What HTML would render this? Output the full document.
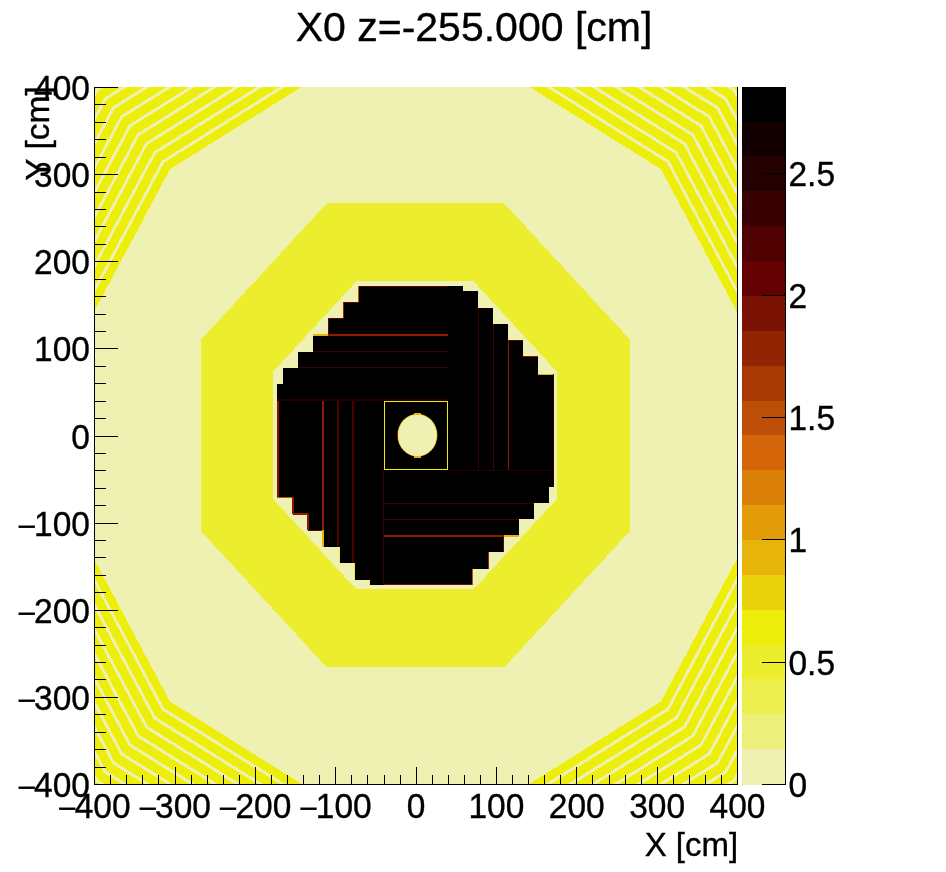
<!DOCTYPE html>
<html><head><meta charset="utf-8"><title>X0</title>
<style>html,body{margin:0;padding:0;background:#fff;width:946px;height:872px;overflow:hidden}</style></head>
<body>
<svg width="946" height="872" viewBox="0 0 946 872" style="position:absolute;left:0;top:0;will-change:transform">
<defs><clipPath id="fr"><rect x="94" y="87" width="643" height="697"/></clipPath></defs>
<g clip-path="url(#fr)" shape-rendering="crispEdges">
<rect x="94" y="87" width="644" height="698" fill="#edee0b"/>
<polygon points="863.43,305.25 743.41,79.90 535.52,-50.20 295.48,-50.20 87.59,79.90 -32.43,305.25 -32.43,565.45 87.59,790.80 295.48,920.90 535.52,920.90 743.41,790.80 863.43,565.45" fill="#eff1b2"/>
<polygon points="860.64,306.06 741.36,82.12 534.77,-47.17 296.23,-47.17 89.64,82.12 -29.64,306.06 -29.64,564.64 89.64,788.58 296.23,917.87 534.77,917.87 741.36,788.58 860.64,564.64" fill="#edee0b"/>
<polygon points="852.14,308.53 735.14,88.86 532.50,-37.96 298.50,-37.96 95.86,88.86 -21.14,308.53 -21.14,562.17 95.86,781.84 298.50,908.66 532.50,908.66 735.14,781.84 852.14,562.17" fill="#eff1b2"/>
<polygon points="849.35,309.34 733.10,91.08 531.75,-34.93 299.25,-34.93 97.90,91.08 -18.35,309.34 -18.35,561.36 97.90,779.62 299.25,905.63 531.75,905.63 733.10,779.62 849.35,561.36" fill="#edee0b"/>
<polygon points="840.85,311.81 726.88,97.82 529.47,-25.73 301.53,-25.73 104.12,97.82 -9.85,311.81 -9.85,558.89 104.12,772.88 301.53,896.43 529.47,896.43 726.88,772.88 840.85,558.89" fill="#eff1b2"/>
<polygon points="838.06,312.62 724.83,100.04 528.72,-22.70 302.28,-22.70 106.17,100.04 -7.06,312.62 -7.06,558.08 106.17,770.66 302.28,893.40 528.72,893.40 724.83,770.66 838.06,558.08" fill="#edee0b"/>
<polygon points="829.57,315.08 718.62,106.78 526.45,-13.49 304.55,-13.49 112.38,106.78 1.43,315.08 1.43,555.62 112.38,763.92 304.55,884.19 526.45,884.19 718.62,763.92 829.57,555.62" fill="#eff1b2"/>
<polygon points="826.77,315.90 716.57,108.99 525.70,-10.46 305.30,-10.46 114.43,108.99 4.23,315.90 4.23,554.80 114.43,761.71 305.30,881.16 525.70,881.16 716.57,761.71 826.77,554.80" fill="#edee0b"/>
<polygon points="818.28,318.36 710.35,115.73 523.42,-1.25 307.58,-1.25 120.65,115.73 12.72,318.36 12.72,552.34 120.65,754.97 307.58,871.95 523.42,871.95 710.35,754.97 818.28,552.34" fill="#eff1b2"/>
<polygon points="815.48,319.17 708.31,117.95 522.67,1.78 308.33,1.78 122.69,117.95 15.52,319.17 15.52,551.53 122.69,752.75 308.33,868.92 522.67,868.92 708.31,752.75 815.48,551.53" fill="#edee0b"/>
<polygon points="806.99,321.64 702.09,124.69 520.40,10.98 310.60,10.98 128.91,124.69 24.01,321.64 24.01,549.06 128.91,746.01 310.60,859.72 520.40,859.72 702.09,746.01 806.99,549.06" fill="#eff1b2"/>
<polygon points="804.19,322.45 700.04,126.91 519.65,14.01 311.35,14.01 130.96,126.91 26.81,322.45 26.81,548.25 130.96,743.79 311.35,856.69 519.65,856.69 700.04,743.79 804.19,548.25" fill="#edee0b"/>
<polygon points="795.70,324.92 693.83,133.65 517.37,23.22 313.63,23.22 137.17,133.65 35.30,324.92 35.30,545.78 137.17,737.05 313.63,847.48 517.37,847.48 693.83,737.05 795.70,545.78" fill="#eff1b2"/>
<polygon points="792.91,325.73 691.78,135.87 516.63,26.25 314.37,26.25 139.22,135.87 38.09,325.73 38.09,544.97 139.22,734.83 314.37,844.45 516.63,844.45 691.78,734.83 792.91,544.97" fill="#edee0b"/>
<polygon points="784.41,328.20 685.56,142.61 514.35,35.46 316.65,35.46 145.44,142.61 46.59,328.20 46.59,542.50 145.44,728.09 316.65,835.24 514.35,835.24 685.56,728.09 784.41,542.50" fill="#eff1b2"/>
<polygon points="781.62,329.01 683.52,144.83 513.60,38.49 317.40,38.49 147.48,144.83 49.38,329.01 49.38,541.69 147.48,725.87 317.40,832.21 513.60,832.21 683.52,725.87 781.62,541.69" fill="#edee0b"/>
<polygon points="773.12,331.48 677.30,151.56 511.33,47.69 319.67,47.69 153.70,151.56 57.88,331.48 57.88,539.22 153.70,719.14 319.67,823.01 511.33,823.01 677.30,719.14 773.12,539.22" fill="#eff1b2"/>
<polygon points="770.33,332.29 675.25,153.78 510.58,50.72 320.42,50.72 155.75,153.78 60.67,332.29 60.67,538.41 155.75,716.92 320.42,819.98 510.58,819.98 675.25,716.92 770.33,538.41" fill="#edee0b"/>
<polygon points="761.84,334.76 669.04,160.52 508.30,59.93 322.70,59.93 161.96,160.52 69.16,334.76 69.16,535.94 161.96,710.18 322.70,810.77 508.30,810.77 669.04,710.18 761.84,535.94" fill="#eff1b2"/>
<polygon points="759.04,335.57 666.99,162.74 507.55,62.96 323.45,62.96 164.01,162.74 71.96,335.57 71.96,535.13 164.01,707.96 323.45,807.74 507.55,807.74 666.99,707.96 759.04,535.13" fill="#edee0b"/>
<polygon points="750.89,337.94 661.02,169.21 505.37,71.79 325.63,71.79 169.98,169.21 80.11,337.94 80.11,532.76 169.98,701.49 325.63,798.91 505.37,798.91 661.02,701.49 750.89,532.76" fill="#eff1b2"/>
<polygon points="629.60,339.23 504.18,203.30 326.82,203.30 201.40,339.23 201.40,531.47 326.82,667.40 504.18,667.40 629.60,531.47" fill="#ecee2d"/>
<polygon points="556.80,371.58 473.74,281.40 356.26,281.40 273.20,371.58 273.20,499.12 356.26,589.30 473.74,589.30 556.80,499.12" fill="#eff1b2"/>
<polygon points="277.0,497.0 277.0,383.8 283.0,383.8 283.0,367.7 298.1,367.7 298.1,351.7 313.2,351.7 313.2,334.8 328.3,334.8 328.3,318.4 343.5,318.4 343.5,302.3 358.8,302.3 358.8,286.3 463.2,286.3 463.2,290.7 478.3,290.7 478.3,308.0 493.1,308.0 493.1,323.8 508.3,323.8 508.3,340.1 523.4,340.1 523.4,356.2 538.4,356.2 538.4,373.7 554.0,373.7 554.0,486.9 548.9,486.9 548.9,503.0 534.2,503.0 534.2,519.4 519.2,519.4 519.2,536.0 503.9,536.0 503.9,552.4 488.9,552.4 488.9,568.5 473.3,568.5 473.3,584.8 369.0,584.8 369.0,580.2 353.9,580.2 353.9,563.0 338.9,563.0 338.9,546.7 323.3,546.7 323.3,530.4 308.0,530.4 308.0,514.0 293.0,514.0 293.0,497.0" fill="#010000"/>
<rect x="358.8" y="286.3" width="89.2" height="1.0" fill="#5c0a00"/>
<rect x="343.5" y="302.3" width="15.3" height="1.0" fill="#5c0a00"/>
<rect x="328.3" y="318.4" width="15.2" height="1.0" fill="#5c0a00"/>
<rect x="358.0" y="286.3" width="1.0" height="16.0" fill="#b05a04"/>
<rect x="342.9" y="302.3" width="1.0" height="16.1" fill="#8a2a02"/>
<rect x="328.0" y="318.4" width="1.0" height="15.6" fill="#5c0a00"/>
<rect x="313.2" y="333.9" width="15.1" height="2.0" fill="#e7b509"/>
<rect x="328.3" y="333.9" width="119.7" height="2.0" fill="#8c1c02"/>
<rect x="313.2" y="351.4" width="134.8" height="1.0" fill="#3c0000"/>
<rect x="298.1" y="367.4" width="149.9" height="1.0" fill="#3c0000"/>
<rect x="277.0" y="399.0" width="171.0" height="2.0" fill="#240000"/>
<rect x="477.8" y="308.0" width="1.0" height="162.0" fill="#3c0000"/>
<rect x="492.9" y="323.8" width="1.0" height="146.2" fill="#4c0000"/>
<rect x="507.8" y="340.1" width="1.5" height="129.9" fill="#8c1c02"/>
<rect x="538.4" y="373.7" width="15.6" height="1.0" fill="#e7b509"/>
<rect x="523.4" y="356.1" width="15.0" height="1.2" fill="#8c1c02"/>
<rect x="508.3" y="340.0" width="15.1" height="1.0" fill="#5c0a00"/>
<rect x="553.0" y="373.7" width="1.0" height="113.2" fill="#240000"/>
<rect x="448.0" y="470.1" width="106.0" height="1.0" fill="#240000"/>
<rect x="384.4" y="502.9" width="149.8" height="1.0" fill="#3c0000"/>
<rect x="384.4" y="518.9" width="134.8" height="1.0" fill="#4c0000"/>
<rect x="384.4" y="535.0" width="119.5" height="2.0" fill="#8c1c02"/>
<rect x="503.9" y="535.0" width="15.3" height="2.0" fill="#e7b509"/>
<rect x="384.4" y="583.8" width="88.9" height="1.0" fill="#7a1202"/>
<rect x="472.3" y="568.5" width="1.0" height="16.3" fill="#b05a04"/>
<rect x="487.9" y="552.4" width="1.0" height="16.1" fill="#8a2a02"/>
<rect x="502.9" y="536.0" width="1.0" height="16.4" fill="#5c0a00"/>
<rect x="277.0" y="401.0" width="2.0" height="96.0" fill="#8c1402"/>
<rect x="277.0" y="496.9" width="16.0" height="1.0" fill="#b05a04"/>
<rect x="292.0" y="497.0" width="2.0" height="17.0" fill="#8c1402"/>
<rect x="293.0" y="513.4" width="15.0" height="1.6" fill="#8c1c02"/>
<rect x="307.2" y="514.0" width="2.0" height="16.4" fill="#8c1402"/>
<rect x="308.0" y="530.1" width="15.3" height="1.0" fill="#5c0a00"/>
<rect x="322.0" y="401.0" width="2.0" height="129.4" fill="#8c1c02"/>
<rect x="322.0" y="530.4" width="2.0" height="16.3" fill="#e7b509"/>
<rect x="337.0" y="401.0" width="2.0" height="145.7" fill="#4c0000"/>
<rect x="338.8" y="546.7" width="1.0" height="16.3" fill="#ebee4d"/>
<rect x="352.2" y="401.0" width="2.0" height="162.0" fill="#4c0000"/>
<rect x="353.8" y="563.0" width="1.0" height="17.2" fill="#ebee4d"/>
<rect x="368.9" y="580.2" width="1.0" height="4.6" fill="#ebee4d"/>
<rect x="383.4" y="470.0" width="1.0" height="114.8" fill="#3c0000"/>
<rect x="384.5" y="401.5" width="63" height="68" fill="none" stroke="#edee0b" stroke-width="1"/>
<ellipse cx="417.4" cy="435.2" rx="20" ry="21.4" fill="#e7b509" shape-rendering="auto"/>
<ellipse cx="417.4" cy="435.2" rx="19.3" ry="20.8" fill="#eff1b2" shape-rendering="auto"/>
<rect x="413.5" y="413.2" width="7.8" height="1.4" fill="#e7b509"/>
<rect x="413.5" y="456.1" width="7.8" height="1.4" fill="#e7b509"/>
<rect x="396.7" y="432.0" width="1.2" height="7.0" fill="#8c1c02"/>
</g>
<g shape-rendering="crispEdges" fill="#000">
<rect x="737" y="87" width="1" height="698"/>
<rect x="94" y="87" width="1" height="698"/>
<rect x="94" y="784" width="644" height="1"/>
<rect x="94" y="767" width="1" height="17"/>
<rect x="94" y="87" width="24" height="1"/>
<rect x="110" y="775" width="1" height="9"/>
<rect x="94" y="104" width="12" height="1"/>
<rect x="126" y="775" width="1" height="9"/>
<rect x="94" y="122" width="12" height="1"/>
<rect x="142" y="775" width="1" height="9"/>
<rect x="94" y="139" width="12" height="1"/>
<rect x="158" y="775" width="1" height="9"/>
<rect x="94" y="157" width="12" height="1"/>
<rect x="175" y="767" width="1" height="17"/>
<rect x="94" y="174" width="24" height="1"/>
<rect x="191" y="775" width="1" height="9"/>
<rect x="94" y="192" width="12" height="1"/>
<rect x="207" y="775" width="1" height="9"/>
<rect x="94" y="209" width="12" height="1"/>
<rect x="223" y="775" width="1" height="9"/>
<rect x="94" y="226" width="12" height="1"/>
<rect x="239" y="775" width="1" height="9"/>
<rect x="94" y="244" width="12" height="1"/>
<rect x="255" y="767" width="1" height="17"/>
<rect x="94" y="261" width="24" height="1"/>
<rect x="271" y="775" width="1" height="9"/>
<rect x="94" y="279" width="12" height="1"/>
<rect x="287" y="775" width="1" height="9"/>
<rect x="94" y="296" width="12" height="1"/>
<rect x="303" y="775" width="1" height="9"/>
<rect x="94" y="314" width="12" height="1"/>
<rect x="319" y="775" width="1" height="9"/>
<rect x="94" y="331" width="12" height="1"/>
<rect x="335" y="767" width="1" height="17"/>
<rect x="94" y="348" width="24" height="1"/>
<rect x="351" y="775" width="1" height="9"/>
<rect x="94" y="366" width="12" height="1"/>
<rect x="367" y="775" width="1" height="9"/>
<rect x="94" y="383" width="12" height="1"/>
<rect x="384" y="775" width="1" height="9"/>
<rect x="94" y="401" width="12" height="1"/>
<rect x="400" y="775" width="1" height="9"/>
<rect x="94" y="418" width="12" height="1"/>
<rect x="416" y="767" width="1" height="17"/>
<rect x="94" y="436" width="24" height="1"/>
<rect x="432" y="775" width="1" height="9"/>
<rect x="94" y="453" width="12" height="1"/>
<rect x="448" y="775" width="1" height="9"/>
<rect x="94" y="470" width="12" height="1"/>
<rect x="464" y="775" width="1" height="9"/>
<rect x="94" y="488" width="12" height="1"/>
<rect x="480" y="775" width="1" height="9"/>
<rect x="94" y="505" width="12" height="1"/>
<rect x="496" y="767" width="1" height="17"/>
<rect x="94" y="523" width="24" height="1"/>
<rect x="512" y="775" width="1" height="9"/>
<rect x="94" y="540" width="12" height="1"/>
<rect x="528" y="775" width="1" height="9"/>
<rect x="94" y="557" width="12" height="1"/>
<rect x="544" y="775" width="1" height="9"/>
<rect x="94" y="575" width="12" height="1"/>
<rect x="560" y="775" width="1" height="9"/>
<rect x="94" y="592" width="12" height="1"/>
<rect x="576" y="767" width="1" height="17"/>
<rect x="94" y="610" width="24" height="1"/>
<rect x="592" y="775" width="1" height="9"/>
<rect x="94" y="627" width="12" height="1"/>
<rect x="609" y="775" width="1" height="9"/>
<rect x="94" y="645" width="12" height="1"/>
<rect x="625" y="775" width="1" height="9"/>
<rect x="94" y="662" width="12" height="1"/>
<rect x="641" y="775" width="1" height="9"/>
<rect x="94" y="679" width="12" height="1"/>
<rect x="657" y="767" width="1" height="17"/>
<rect x="94" y="697" width="24" height="1"/>
<rect x="673" y="775" width="1" height="9"/>
<rect x="94" y="714" width="12" height="1"/>
<rect x="689" y="775" width="1" height="9"/>
<rect x="94" y="732" width="12" height="1"/>
<rect x="705" y="775" width="1" height="9"/>
<rect x="94" y="749" width="12" height="1"/>
<rect x="721" y="775" width="1" height="9"/>
<rect x="94" y="767" width="12" height="1"/>
<rect x="737" y="767" width="1" height="17"/>
<rect x="94" y="784" width="24" height="1"/>
<rect x="742" y="749" width="43" height="36" fill="#eff1b2"/>
<rect x="742" y="714" width="43" height="35" fill="#ecef79"/>
<rect x="742" y="679" width="43" height="35" fill="#ebee4d"/>
<rect x="742" y="645" width="43" height="34" fill="#ecee2d"/>
<rect x="742" y="610" width="43" height="35" fill="#edee0b"/>
<rect x="742" y="575" width="43" height="35" fill="#ead20a"/>
<rect x="742" y="540" width="43" height="35" fill="#e7b509"/>
<rect x="742" y="505" width="43" height="35" fill="#e39b08"/>
<rect x="742" y="470" width="43" height="35" fill="#db8009"/>
<rect x="742" y="435" width="43" height="35" fill="#d46509"/>
<rect x="742" y="401" width="43" height="34" fill="#bd4e07"/>
<rect x="742" y="366" width="43" height="35" fill="#a83904"/>
<rect x="742" y="331" width="43" height="35" fill="#912503"/>
<rect x="742" y="296" width="43" height="35" fill="#7a1202"/>
<rect x="742" y="261" width="43" height="35" fill="#630001"/>
<rect x="742" y="226" width="43" height="35" fill="#4f0001"/>
<rect x="742" y="191" width="43" height="35" fill="#390001"/>
<rect x="742" y="156" width="43" height="35" fill="#250001"/>
<rect x="742" y="122" width="43" height="34" fill="#120000"/>
<rect x="742" y="87" width="43" height="35" fill="#010000"/>
<rect x="785" y="87" width="1" height="698"/>
<rect x="762" y="784" width="23" height="1"/>
<rect x="762" y="662" width="23" height="1"/>
<rect x="762" y="539" width="23" height="1"/>
<rect x="762" y="417" width="23" height="1"/>
<rect x="762" y="295" width="23" height="1"/>
<rect x="762" y="173" width="23" height="1"/>
</g>
<g font-family="'Liberation Sans', sans-serif" fill="#000" stroke="#000" stroke-width="0.35">
<text x="474" y="41" font-size="41" text-anchor="middle">X0 z=-255.000 [cm]</text>
<text transform="translate(93.9,817.7)  scale(1,1.025)" font-size="33.5" text-anchor="middle"><tspan dy="1.9" stroke-width="0.1">−</tspan><tspan dy="-1.9" dx="-2.2">400</tspan></text>
<text transform="translate(90.0,797.0)  scale(1,1.025)" font-size="33.5" text-anchor="end"><tspan dy="1.9" stroke-width="0.1">−</tspan><tspan dy="-1.9" dx="-2.2">400</tspan></text>
<text transform="translate(174.3,817.7)  scale(1,1.025)" font-size="33.5" text-anchor="middle"><tspan dy="1.9" stroke-width="0.1">−</tspan><tspan dy="-1.9" dx="-2.2">300</tspan></text>
<text transform="translate(90.0,709.9)  scale(1,1.025)" font-size="33.5" text-anchor="end"><tspan dy="1.9" stroke-width="0.1">−</tspan><tspan dy="-1.9" dx="-2.2">300</tspan></text>
<text transform="translate(254.7,817.7)  scale(1,1.025)" font-size="33.5" text-anchor="middle"><tspan dy="1.9" stroke-width="0.1">−</tspan><tspan dy="-1.9" dx="-2.2">200</tspan></text>
<text transform="translate(90.0,622.8)  scale(1,1.025)" font-size="33.5" text-anchor="end"><tspan dy="1.9" stroke-width="0.1">−</tspan><tspan dy="-1.9" dx="-2.2">200</tspan></text>
<text transform="translate(335.0,817.7)  scale(1,1.025)" font-size="33.5" text-anchor="middle"><tspan dy="1.9" stroke-width="0.1">−</tspan><tspan dy="-1.9" dx="-2.2">100</tspan></text>
<text transform="translate(90.0,535.6)  scale(1,1.025)" font-size="33.5" text-anchor="end"><tspan dy="1.9" stroke-width="0.1">−</tspan><tspan dy="-1.9" dx="-2.2">100</tspan></text>
<text transform="translate(416.0,817.7)  scale(1,1.025)" font-size="33.5" text-anchor="middle">0</text>
<text transform="translate(90.0,448.5)  scale(1,1.025)" font-size="33.5" text-anchor="end">0</text>
<text transform="translate(496.4,817.7)  scale(1,1.025)" font-size="33.5" text-anchor="middle">100</text>
<text transform="translate(90.0,361.4)  scale(1,1.025)" font-size="33.5" text-anchor="end">100</text>
<text transform="translate(576.8,817.7)  scale(1,1.025)" font-size="33.5" text-anchor="middle">200</text>
<text transform="translate(90.0,274.2)  scale(1,1.025)" font-size="33.5" text-anchor="end">200</text>
<text transform="translate(657.1,817.7)  scale(1,1.025)" font-size="33.5" text-anchor="middle">300</text>
<text transform="translate(90.0,187.1)  scale(1,1.025)" font-size="33.5" text-anchor="end">300</text>
<text transform="translate(737.5,817.7)  scale(1,1.025)" font-size="33.5" text-anchor="middle">400</text>
<text transform="translate(90.0,100.0)  scale(1,1.025)" font-size="33.5" text-anchor="end">400</text>
<text transform="translate(788.5,797.0)  scale(1,1.025)" font-size="33.5" text-anchor="start">0</text>
<text transform="translate(788.5,674.7)  scale(1,1.025)" font-size="33.5" text-anchor="start">0.5</text>
<text transform="translate(788.5,552.4)  scale(1,1.025)" font-size="33.5" text-anchor="start">1</text>
<text transform="translate(788.5,430.1)  scale(1,1.025)" font-size="33.5" text-anchor="start">1.5</text>
<text transform="translate(788.5,307.8)  scale(1,1.025)" font-size="33.5" text-anchor="start">2</text>
<text transform="translate(788.5,185.5)  scale(1,1.025)" font-size="33.5" text-anchor="start">2.5</text>
<text x="738.2" y="856.2" font-size="33" text-anchor="end">X [cm]</text>
<text transform="translate(48.6,86.3) rotate(-90)" font-size="33.5" text-anchor="end">Y [cm]</text>
</g>
</svg>
</body></html>
